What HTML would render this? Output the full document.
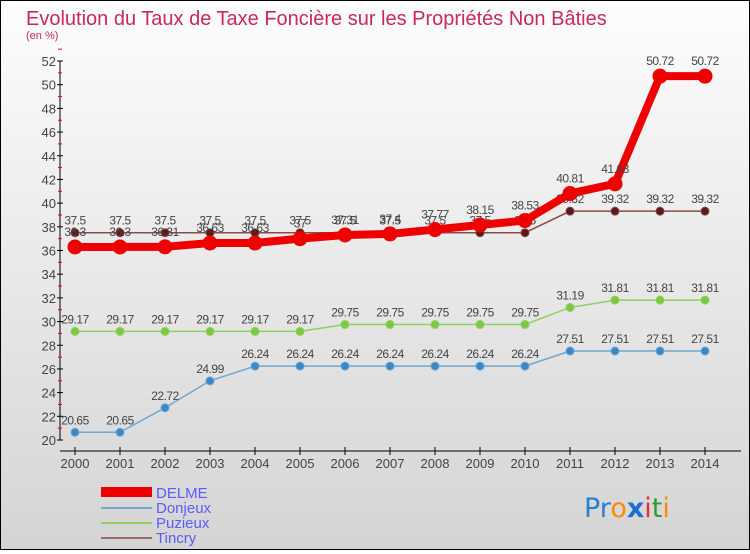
<!DOCTYPE html>
<html><head><meta charset="utf-8"><style>
html,body{margin:0;padding:0}
body{width:750px;height:550px;overflow:hidden;font-family:"Liberation Sans",sans-serif}
#wrap{position:relative;width:748px;height:548px;border:1px solid #000;background:linear-gradient(#fdfdfd,#d4d4d4)}
</style></head><body>
<div id="wrap">
<svg id="chart" width="748" height="548" xmlns="http://www.w3.org/2000/svg">
<text x="25" y="24" font-size="20" fill="#c8285a">Evolution du Taux de Taxe Foncière sur les Propriétés Non Bâties</text>
<text x="25" y="38" font-size="11" fill="#c8285a">(en %)</text>
<g id="axes"></g>
<g id="series"></g>
<g id="legend">
<rect x="100" y="486" width="51" height="10" fill="#e00"/>
<text x="155" y="497" font-size="15" fill="#5b5bff">DELME</text>
<line x1="100" y1="507" x2="151" y2="507" stroke="#6fa8d0" stroke-width="2"/>
<text x="155" y="512" font-size="15" fill="#5b5bff">Donjeux</text>
<line x1="100" y1="522" x2="151" y2="522" stroke="#8ed060" stroke-width="2"/>
<text x="155" y="527" font-size="15" fill="#5b5bff">Puzieux</text>
<line x1="100" y1="537" x2="151" y2="537" stroke="#9a6a6a" stroke-width="2"/>
<text x="155" y="542" font-size="15" fill="#5b5bff">Tincry</text>
</g>
<g font-size="27" font-family="'DejaVu Sans',sans-serif">
<text x="583" y="516"><tspan fill="#2a7fd0">Pr</tspan><tspan fill="#ff8a00">o</tspan><tspan fill="#1a6fd0" font-weight="bold">x</tspan><tspan fill="#e03030">i</tspan><tspan fill="#2a9a30">t</tspan><tspan fill="#ff8a00">i</tspan></text>
</g>
</svg>
</div>
<script>
const years=["2000","2001","2002","2003","2004","2005","2006","2007","2008","2009","2010","2011","2012","2013","2014"];
const yTicks=[20,22,24,26,28,30,32,34,36,38,40,42,44,46,48,50,52];
const delme=[36.3,36.3,36.31,36.63,36.63,37,37.31,37.4,37.77,38.15,38.53,40.81,41.63,50.72,50.72];
const donjeux=[20.65,20.65,22.72,24.99,26.24,26.24,26.24,26.24,26.24,26.24,26.24,27.51,27.51,27.51,27.51];
const puzieux=[29.17,29.17,29.17,29.17,29.17,29.17,29.75,29.75,29.75,29.75,29.75,31.19,31.81,31.81,31.81];
const tincry=[37.5,37.5,37.5,37.5,37.5,37.5,37.5,37.5,37.5,37.5,37.5,39.32,39.32,39.32,39.32];
const NS="http://www.w3.org/2000/svg";
const xS=i=>74+45*i;
const yS=v=>439-(v-20)*(379/32);
function mk(tag,attrs,parent){const e=document.createElementNS(NS,tag);for(const k in attrs)e.setAttribute(k,attrs[k]);parent.appendChild(e);return e;}
const axes=document.getElementById('axes');
const yAxis=mk('line',{x1:59,y1:yS(52),x2:59,y2:yS(20),stroke:'#000','stroke-width':1},axes);


yTicks.forEach(t=>{
 mk('line',{x1:56,x2:62,y1:yS(t),y2:yS(t),stroke:'#000'},axes);
 mk('line',{x1:57,x2:61,y1:yS(t+1),y2:yS(t+1),stroke:'#e00'},axes);
 const tx=mk('text',{x:55,y:yS(t)+5,'font-size':13,fill:'#444','text-anchor':'end'},axes);
 tx.textContent=t;
 
 
});
const xAxis=mk('line',{x1:59,y1:450,x2:740,y2:450,stroke:'#000'},axes);


years.forEach((y,i)=>{
 mk('line',{x1:xS(i),x2:xS(i),y1:446,y2:454,stroke:'#000'},axes);
 const tx=mk('text',{x:xS(i),y:467,'font-size':13,fill:'#444','text-anchor':'middle'},axes);
 tx.textContent=y;
 
 
});
const sg=document.getElementById('series');
function draw(name,data,color,w,r,dot){
 const g=mk('g',{},sg);
 
 
 const pl=mk('polyline',{points:data.map((v,i)=>xS(i)+','+yS(v)).join(' '),fill:'none',stroke:color,'stroke-width':w},g);
 
 
 data.forEach((v,i)=>{
  const c=mk('circle',{cx:xS(i),cy:yS(v),r:r,fill:dot,stroke:color,'stroke-width':1},g);
  
  
  const t=mk('text',{x:xS(i),y:yS(v)-r-4,'font-size':12,fill:'#444','text-anchor':'middle','letter-spacing':'-0.5'},g);
  t.textContent=String(v);
  
  
 });
}
draw('donjeux',donjeux,'#6fa8d0',1.5,4,'#3a88c8');
draw('puzieux',puzieux,'#8ed060',1.5,4,'#7cc840');
draw('tincry',tincry,'#8a4a4a',1.5,4,'#5a1818');
draw('delme',delme,'#e00',8,7,'#e00');
</script>
</body></html>
